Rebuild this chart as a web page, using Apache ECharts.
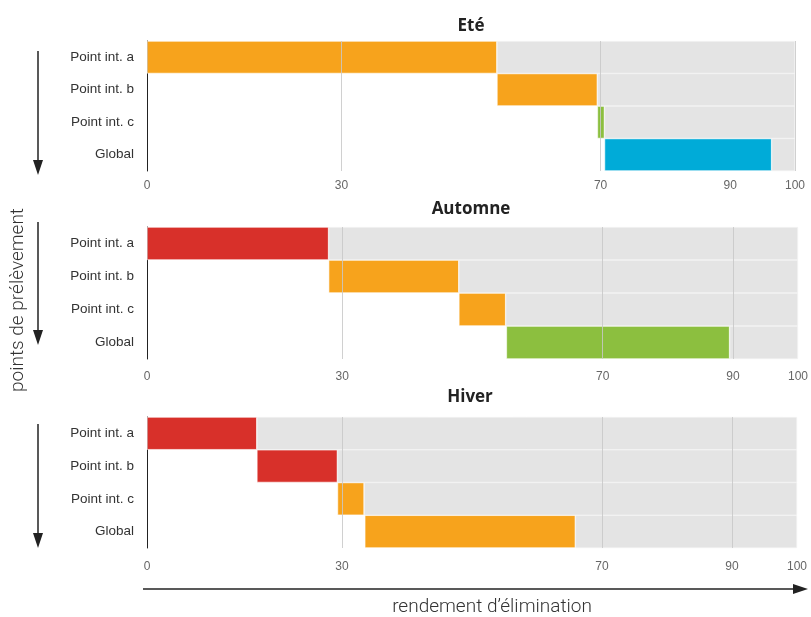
<!DOCTYPE html>
<html>
<head>
<meta charset="utf-8">
<script src="https://cdn.jsdelivr.net/npm/echarts@6/dist/echarts.min.js"></script>
<style>html,body{margin:0;padding:0;background:#fff}#c{width:811px;height:617px}</style>
</head>
<body>
<div id="c"></div>
<script>
// ---- data ----
const categories = ['Point int. a', 'Point int. b', 'Point int. c', 'Global'];
const seasonNames = ['Eté', 'Automne', 'Hiver'];
const eteStart = [0, 54, 69.5, 70.6];
const eteValue = [54, 15.5, 1.1, 25.8];
const automneStart = [0, 27.9, 47.9, 55.2];
const automneValue = [27.9, 20, 7.2, 34.3];
const hiverStart = [0, 16.9, 29.3, 33.5];
const hiverValue = [16.9, 12.4, 4.1, 32.4];
const tickValues = [0, 30, 70, 90, 100];
const eteGridLines = [30, 70, 100];
const automneGridLines = [30, 70, 90];
const hiverGridLines = [30, 70, 90];
const axisMax = 100;

// ---- styles ----
const palette = { orange: '#f7a31c', red: '#d8302a', green: '#8cbf3f', blue: '#00abd8' };
const eteColors = ['orange', 'orange', 'green', 'blue'];
const automneColors = ['red', 'orange', 'orange', 'green'];
const hiverColors = ['red', 'red', 'orange', 'orange'];

const panels = [
  { start: eteStart, value: eteValue, colors: eteColors, lines: eteGridLines, top: 41, height: 130, right: 16, margin: 9 },
  { start: automneStart, value: automneValue, colors: automneColors, lines: automneGridLines, top: 227, height: 132, right: 12, margin: 12 },
  { start: hiverStart, value: hiverValue, colors: hiverColors, lines: hiverGridLines, top: 417, height: 131, right: 14, margin: 13 }
];

const grid = [], xAxis = [], yAxis = [], series = [];
panels.forEach((p, i) => {
  grid.push({ left: 147, right: p.right, top: p.top, height: p.height });
  xAxis.push({
    type: 'value', gridIndex: i, min: 0, max: axisMax,
    axisLine: { show: false }, axisTick: { show: false }, splitLine: { show: false },
    axisLabel: { customValues: tickValues, color: '#666', fontSize: 12, fontFamily: 'Liberation Sans', margin: p.margin }
  });
  yAxis.push({
    type: 'category', gridIndex: i, data: categories, inverse: true,
    axisLine: { show: true, lineStyle: { color: '#222', width: 1 } },
    axisTick: { show: false },
    axisLabel: { color: '#333', fontSize: 13.5, fontFamily: 'Liberation Sans', margin: 13 }
  });
  const stack = 's' + i;
  series.push({
    type: 'bar', xAxisIndex: i, yAxisIndex: i, stack, silent: true,
    barCategoryGap: '0%', itemStyle: { color: 'transparent' },
    data: p.start
  });
  series.push({
    type: 'bar', xAxisIndex: i, yAxisIndex: i, stack, silent: true,
    barCategoryGap: '0%',
    data: p.value.map((v, k) => ({ value: v, itemStyle: { color: palette[p.colors[k]], borderColor: '#fff', borderWidth: 0.6 } }))
  });
  series.push({
    type: 'bar', xAxisIndex: i, yAxisIndex: i, stack, silent: true,
    barCategoryGap: '0%',
    itemStyle: { color: '#e4e4e4', borderColor: '#f4f4f4', borderWidth: 0.6 },
    data: p.value.map((v, k) => axisMax - p.start[k] - v),
    markLine: {
      silent: true, symbol: 'none', animation: false, z: 5,
      label: { show: false },
      lineStyle: { color: 'rgba(200,200,200,0.85)', type: 'solid', width: 1 },
      data: p.lines.map(x => ({ xAxis: x }))
    }
  });
});

function vArrow(x, y1, y2) {
  return [
    { type: 'line', shape: { x1: x, y1: y1, x2: x, y2: y2 - 10 }, style: { stroke: '#222', lineWidth: 1.5 } },
    { type: 'polygon', shape: { points: [[x - 5, y2 - 15], [x + 5, y2 - 15], [x, y2]] }, style: { fill: '#222' } }
  ];
}

const graphic = [
  ...vArrow(38, 51, 175),
  ...vArrow(38, 222, 345),
  ...vArrow(38, 424, 548),
  { type: 'line', shape: { x1: 143, y1: 589, x2: 798, y2: 589 }, style: { stroke: '#222', lineWidth: 1.5 } },
  { type: 'polygon', shape: { points: [[793, 584], [808, 589], [793, 594]] }, style: { fill: '#222' } },
  { type: 'text', x: 492, y: 607, style: { text: 'rendement d\u2019élimination', font: '300 19px Roboto', fill: '#333', textAlign: 'center', textVerticalAlign: 'middle' } },
  { type: 'text', x: 18, y: 300, rotation: Math.PI / 2, style: { text: 'points de prélèvement', font: '300 19px Roboto', fill: '#333', textAlign: 'center', textVerticalAlign: 'middle' } },
  { type: 'text', x: 471, y: 26, style: { text: seasonNames[0], font: 'bold 17px "Open Sans"', fill: '#222', textAlign: 'center', textVerticalAlign: 'middle' } },
  { type: 'text', x: 471, y: 209, style: { text: seasonNames[1], font: 'bold 17px "Open Sans"', fill: '#222', textAlign: 'center', textVerticalAlign: 'middle' } },
  { type: 'text', x: 470, y: 397, style: { text: seasonNames[2], font: 'bold 17px "Open Sans"', fill: '#222', textAlign: 'center', textVerticalAlign: 'middle' } }
];

const chart = echarts.init(document.getElementById('c'), null, { renderer: 'canvas' });
chart.setOption({ animation: false, grid, xAxis, yAxis, series, graphic });
</script>
</body>
</html>
